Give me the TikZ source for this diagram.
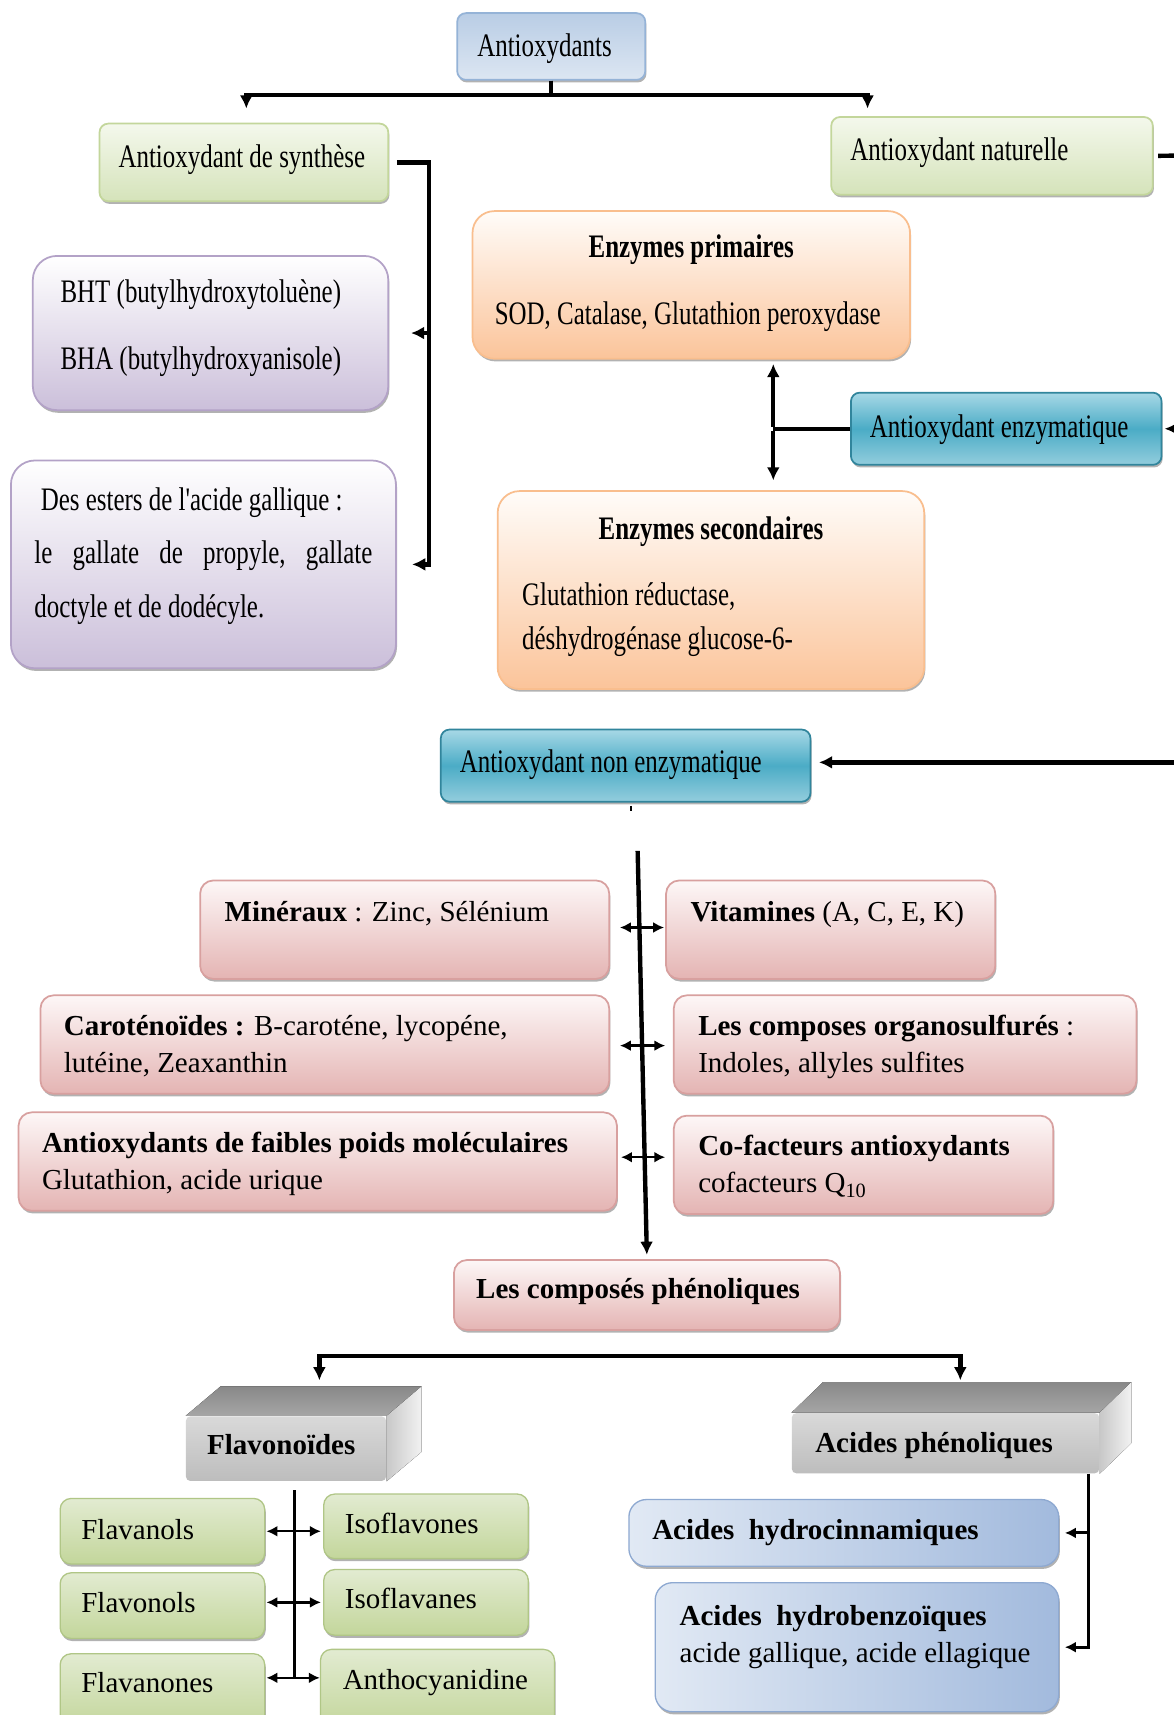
\documentclass[tikz,border=0pt]{standalone}
\usepackage{fontspec}
\setmainfont{Liberation Serif}
\newfontfamily\condserif[FakeStretch=0.76]{Liberation Serif}
\usetikzlibrary{arrows.meta,shadows}
\definecolor{blueT}{HTML}{B9CDE5}
\definecolor{blueB}{HTML}{DCE6F2}
\definecolor{blueD}{HTML}{95B3D7}
\definecolor{grnT}{HTML}{F4F8EC}
\definecolor{grnB}{HTML}{D5E3BA}
\definecolor{grnD}{HTML}{C3D69B}
\definecolor{purT}{HTML}{FFFFFF}
\definecolor{purB}{HTML}{CBBFDA}
\definecolor{purD}{HTML}{B3A2C7}
\definecolor{orT}{HTML}{FFFCF9}
\definecolor{orB}{HTML}{FBC49A}
\definecolor{orD}{HTML}{F9BE8E}
\definecolor{tealT}{HTML}{A7D8E6}
\definecolor{tealM}{HTML}{4BACC6}
\definecolor{tealB}{HTML}{93CDDD}
\definecolor{tealD}{HTML}{31859C}
\definecolor{pinkT}{HTML}{FDF7F7}
\definecolor{pinkB}{HTML}{E4B4B3}
\definecolor{pinkD}{HTML}{D8A09F}
\definecolor{fgT}{HTML}{E2EBD1}
\definecolor{fgB}{HTML}{C3D69B}
\definecolor{fgD}{HTML}{B0C686}
\definecolor{abL}{HTML}{E1E9F4}
\definecolor{abR}{HTML}{A2BADD}
\definecolor{abD}{HTML}{8EA9D1}
\definecolor{frT}{HTML}{D9D9D9}
\definecolor{frB}{HTML}{BDBDBD}
\definecolor{tpT}{HTML}{888888}
\definecolor{tpB}{HTML}{A6A6A6}
\definecolor{rsL}{HTML}{C8C8C8}
\definecolor{rsR}{HTML}{F2F2F2}
\newcommand\toptext{\condserif\fontsize{15pt}{18pt}\selectfont}
\newcommand\lowtext{\fontsize{13.25pt}{16pt}\selectfont}
\newcommand\mybox[6]{\node[#1, minimum width={(#5-#3)*0.5pt}, minimum height={(#6-#4)*0.5pt}, inner sep=0pt] (#2) at ({(#3+#5)/2},{(#4+#6)/2}) {};}
\begin{document}
\begin{tikzpicture}[x=0.5pt,y=-0.5pt,
 shd/.style={drop shadow={shadow xshift=0.5pt,shadow yshift=-1.2pt,opacity=0.3,fill=black}},
 antibox/.style={shd,rounded corners=4pt,draw=blueD,line width=0.8pt,top color=blueT,bottom color=blueB},
 grnbox/.style={shd,rounded corners=4pt,draw=grnD,line width=0.8pt,top color=grnT,bottom color=grnB},
 purbox/.style={shd,rounded corners=11pt,draw=purD,line width=0.8pt,top color=purT,bottom color=purB},
 orbox/.style={shd,rounded corners=10pt,draw=orD,line width=0.8pt,top color=orT,bottom color=orB},
 tealbox/.style={shd,rounded corners=4pt,draw=tealD,line width=0.8pt,top color=tealT,bottom color=tealB,middle color=tealM},
 pinkbox/.style={shd,rounded corners=6pt,draw=pinkD,line width=0.8pt,top color=pinkT,bottom color=pinkB},
 fgbox/.style={shd,rounded corners=5pt,draw=fgD,line width=0.6pt,top color=fgT,bottom color=fgB},
 abbox/.style={shd,rounded corners=8pt,draw=abD,line width=0.6pt,left color=abL,right color=abR},
 face/.style={rounded corners=2pt,top color=frT,bottom color=frB},
 topface/.style={top color=tpT,bottom color=tpB},
 sideface/.style={left color=rsL,right color=rsR},
 tt/.style={anchor=mid west,inner sep=0pt,font=\toptext,yshift=-2.5pt},
 lt/.style={anchor=mid west,inner sep=0pt,font=\lowtext,yshift=-2.5pt},
 ln/.style={line width=2pt},
 arr/.style={line width=2pt,-{Latex[length=6pt,width=6pt]}},
 dbl/.style={line width=1.1pt,{Latex[length=5pt,width=5pt]}-{Latex[length=5pt,width=5pt]}},
 arr2/.style={line width=1.4pt,-{Latex[length=5pt,width=5pt]}},
 vln/.style={line width=1.5pt},
]
\fill[white] (0,0) rectangle (1073,1568);
\useasboundingbox (0,0) rectangle (1073,1568);

% ---- top part
\mybox{antibox}{anti}{418}{12}{590}{73}
\node[tt] (antiT) at (436,42) {Antioxydants};
\mybox{grnbox}{syn}{91}{113}{355}{184}
\node[tt] (synT) at (108,144) {Antioxydant de synthèse};
\mybox{grnbox}{nat}{760}{107}{1054}{178}
\node[tt] (natT) at (777,137) {Antioxydant naturelle};
\mybox{purbox}{bht}{30}{234}{355}{375}
\node[tt] (bhtT) at (55,267) {BHT (butylhydroxytoluène)};
\node[tt] (bhaT) at (55,328) {BHA (butylhydroxyanisole)};
\mybox{purbox}{est}{10}{421}{362}{611}
\node[tt] (estT1) at (37,457) {Des esters de l'acide gallique :};
\node[tt] (estT2) at (31,506) {\hbox to 154.5pt{le\hfill gallate\hfill de\hfill propyle,\hfill gallate}};
\node[tt] (estT3) at (31,555) {doctyle et de dodécyle.};
\mybox{orbox}{pri}{432}{193}{832}{328}
\node[tt,anchor=mid] (priT) at (632,226) {\bfseries Enzymes primaires};
\node[tt] (priT2) at (452,287) {SOD, Catalase, Glutathion peroxydase};
\mybox{tealbox}{enz}{778}{359}{1062}{425}
\node[tt] (enzT) at (795,390) {Antioxydant enzymatique};
\mybox{orbox}{sec}{455}{449}{845}{630}
\node[tt,anchor=mid] (secT) at (650,484) {\bfseries Enzymes secondaires};
\node[tt] (secT2) at (477,544) {Glutathion réductase,};
\node[tt] (secT3) at (477,584) {déshydrogénase glucose-6-};
\mybox{tealbox}{nonenz}{403}{667}{741}{733}
\node[tt] (nonT) at (420,697) {Antioxydant non enzymatique};

% ---- pink part
\mybox{pinkbox}{min}{183}{805}{557}{895}
\node[lt] (minT) at (205,833) {\textbf{Minéraux} : Zinc, Sélénium};
\mybox{pinkbox}{vit}{609}{805}{910}{895}
\node[lt] (vitT) at (631,833) {\textbf{Vitamines} (A, C, E, K)};
\mybox{pinkbox}{car}{37}{910}{557}{1000}
\node[lt] (carT1) at (58,937) {\textbf{Caroténoïdes :} B-caroténe, lycopéne,};
\node[lt] (carT2) at (58,971) {lutéine, Zeaxanthin};
\mybox{pinkbox}{org}{616}{910}{1039}{1000}
\node[lt] (orgT1) at (638,937) {\textbf{Les composes organosulfurés} :};
\node[lt] (orgT2) at (638,971) {Indoles, allyles sulfites};
\mybox{pinkbox}{faib}{17}{1017}{564}{1107}
\node[lt] (faibT1) at (38,1044) {\textbf{Antioxydants de faibles poids moléculaires}};
\node[lt] (faibT2) at (38,1078) {Glutathion, acide urique};
\mybox{pinkbox}{cof}{616}{1020}{963}{1110}
\node[lt] (cofT1) at (638,1047) {\textbf{Co-facteurs antioxydants}};
\node[lt] (cofT2) at (638,1081) {cofacteurs Q\textsubscript{10}};
\mybox{pinkbox}{comp}{415}{1152}{768}{1216}
\node[lt] (compT) at (435,1178) {\textbf{Les composés phénoliques}};

% ---- 3D boxes
\mybox{face}{flav}{170}{1295}{353}{1354}
\fill[topface] (flav.north west) -- ([shift={(32,-27)}]flav.north west) -- ([shift={(32,-27)}]flav.north east) -- (flav.north east) -- cycle;
\fill[sideface] (flav.north east) -- ([shift={(32,-27)}]flav.north east) -- ([shift={(32,-27)}]flav.south east) -- (flav.south east) -- cycle;
\node[lt] (flavT) at (189,1320) {\textbf{Flavonoïdes}};
\mybox{face}{acp}{724}{1292}{1005}{1347}
\fill[topface] (acp.north west) -- ([shift={(29,-28)}]acp.north west) -- ([shift={(29,-28)}]acp.north east) -- (acp.north east) -- cycle;
\fill[sideface] (acp.north east) -- ([shift={(29,-28)}]acp.north east) -- ([shift={(29,-28)}]acp.south east) -- (acp.south east) -- cycle;
\node[lt] (acpT) at (745,1318) {\textbf{Acides phénoliques}};

% ---- sub boxes
\mybox{fgbox}{fl1}{55}{1370}{242}{1430}
\node[lt] (fl1T) at (74,1398) {Flavanols};
\mybox{fgbox}{fl2}{55}{1438}{242}{1498}
\node[lt] (fl2T) at (74,1465) {Flavonols};
\mybox{fgbox}{fl3}{55}{1512}{242}{1580}
\node[lt] (fl3T) at (74,1538) {Flavanones};
\mybox{fgbox}{is1}{296}{1366}{483}{1425}
\node[lt] (is1T) at (315,1392) {Isoflavones};
\mybox{fgbox}{is2}{296}{1435}{483}{1495}
\node[lt] (is2T) at (315,1461) {Isoflavanes};
\mybox{fgbox}{is3}{293}{1508}{507}{1580}
\node[lt] (is3T) at (313,1535) {Anthocyanidine};
\mybox{abbox}{hc}{575}{1371}{968}{1432}
\node[lt] (hcT) at (596,1398) {\textbf{Acides\ \ hydrocinnamiques}};
\mybox{abbox}{hb}{599}{1447}{968}{1565}
\node[lt] (hbT1) at (621,1477) {\textbf{Acides\ \ hydrobenzoïques}};
\node[lt] (hbT2) at (621,1510) {acide gallique, acide ellagique};

% ---- connectors top
\draw[arr, shorten >=6.5pt] (anti.south) -- ++(0,13) -| ([xshift=67.5pt]syn.north west);
\draw[arr, shorten >=3.5pt] (anti.south) -- ++(0,13) -| ([xshift=17pt]nat.north west);
\coordinate (sb) at (392,516);
\draw[arr] ([xshift=3.5pt]syn.east) -| (sb) -- ([xshift=7pt]est.east |- sb);
\draw[arr] (sb |- bht.east) -- ([xshift=10pt]bht.east);
\coordinate (ev) at (707,392);
\draw[ln] (enz.west) -- (ev);
\draw[arr, shorten >=2pt] ([yshift=1pt]ev) -- (ev |- pri.south);
\draw[arr, shorten >=4.5pt] ([yshift=-1pt]ev) -- (ev |- sec.north);
\coordinate (eN) at (1090,142);
\coordinate (eE) at (1090,392);
\coordinate (eNE) at (1090,697);
\draw[ln] ([xshift=2pt]nat.east) -- (eN);
\draw[arr] (eE) -- ([xshift=1pt]enz.east);
\draw[arr] (eNE) -- ([xshift=3.5pt]nonenz.east |- eNE);
\draw[line width=1.2pt] ([shift={(5,3)}]nonenz.south) -- ++(0,5);

% ---- non enzymatique
\coordinate (vt) at (583,778);
\draw[arr, shorten >=2pt] (vt) -- (comp.north);
\draw[dbl, shorten <=4.5pt, shorten >=0.5pt] (min.east |- 0,848) -- (vit.west |- 0,848);
\draw[dbl, shorten <=4.5pt, shorten >=3.5pt] (car.east |- 0,956) -- (org.west |- 0,956);
\draw[dbl, shorten <=1.5pt, shorten >=3.5pt] (faib.east |- 0,1058) -- (cof.west |- 0,1058);

% ---- phenoliques
\coordinate (hl) at (292,1240);
\coordinate (hr) at (878,1240);
\draw[arr] (hr) -- (hl) -- ++(0,22);
\draw[arr] (hl) -- (hr) -- ++(0,22);
\coordinate (fvb) at (269,1534);
\draw[vln] ([shift={(7.5,8)}]flav.south) -- (fvb);
\draw[dbl, shorten <=0.5pt, shorten >=1pt] (fl1.east) -- (fl1.east -| is1.west);
\draw[dbl, shorten <=0.5pt, shorten >=1pt] (fl2.east |- 0,1465) -- (is2.west |- 0,1465);
\draw[dbl, shorten <=0.5pt, shorten >=0pt] (fl3.east |- fvb) -- (fvb -| is3.west);
\draw[arr2] ([xshift=-5pt]acp.south east) |- ([xshift=2.5pt]hb.east);
\draw[arr2] ([xshift=-5pt]acp.south east |- hc.east) -- ([xshift=2.5pt]hc.east);
\end{tikzpicture}
\end{document}
